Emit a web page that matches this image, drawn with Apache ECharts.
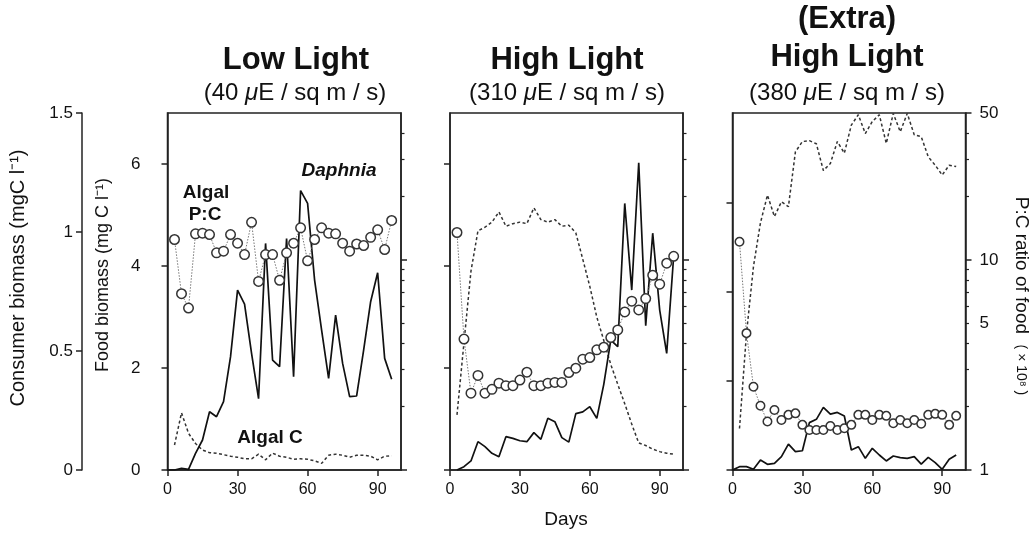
<!DOCTYPE html>
<html>
<head>
<meta charset="utf-8">
<script src="https://cdn.jsdelivr.net/npm/echarts@6/dist/echarts.min.js"></script>
<style>
  html, body { margin: 0; padding: 0; background: #fff; }
  #chart { width: 1036px; height: 534px; }
</style>
</head>
<body>
<div id="chart"></div>
<script>
// Sampling days (every 3 days); Daphnia in two runs also has a day-0 point
const days = [3, 6, 9, 12, 15, 18, 21, 24, 27, 30, 33, 36, 39, 42, 45, 48,
              51, 54, 57, 60, 63, 66, 69, 72, 75, 78, 81, 84, 87, 90, 93, 96];
const daysFrom0 = [0].concat(days);

// Low light (40 µE / sq m / s)
const lowAlgalC = [0.49, 1.12, 0.72, 0.52, 0.39, 0.34, 0.33, 0.30, 0.27, 0.25, 0.22, 0.22, 0.31, 0.20, 0.33, 0.27,
                   0.25, 0.21, 0.22, 0.21, 0.18, 0.13, 0.29, 0.31, 0.29, 0.25, 0.29, 0.29, 0.27, 0.20, 0.27, 0.28];
const lowDaphnia = [0, 0, 0.007, 0.003, 0.07, 0.126, 0.245, 0.224, 0.287, 0.476, 0.756, 0.697, 0.49, 0.30, 0.952, 0.462, 0.434,
                    0.973, 0.392, 1.174, 1.12, 0.798, 0.588, 0.385, 0.651, 0.448, 0.308, 0.311, 0.504, 0.707, 0.829, 0.469, 0.381];
const lowPC = [12.5, 6.9, 5.9, 13.3, 13.4, 13.2, 10.8, 11.0, 13.2, 12.0, 10.6, 15.1, 7.9, 10.6, 10.6, 8.0,
               10.8, 12.0, 14.2, 9.9, 12.5, 14.2, 13.4, 13.3, 12.0, 11.0, 11.9, 11.7, 12.8, 13.9, 11.2, 15.4];

// High light (310 µE / sq m / s)
const highAlgalC = [1.08, 2.5, 3.9, 4.69, 4.76, 4.86, 5.06, 4.78, 4.83, 4.86, 4.83, 5.14, 4.91, 4.86, 4.91, 4.78,
                    4.80, 4.65, 4.13, 3.6, 3.0, 2.54, 2.07, 1.68, 1.3, 0.9, 0.53, 0.48, 0.41, 0.36, 0.33, 0.31];
const highDaphnia = [0, 0.014, 0.038, 0.119, 0.098, 0.07, 0.056, 0.140, 0.133, 0.123, 0.119, 0.157, 0.129, 0.217, 0.203, 0.136,
                     0.117, 0.237, 0.244, 0.266, 0.217, 0.36, 0.546, 0.518, 1.12, 0.756, 1.291, 0.606, 0.995, 0.672, 0.49, 0.899];
const highPC = [13.5, 4.2, 2.32, 2.82, 2.32, 2.42, 2.59, 2.52, 2.52, 2.68, 2.92, 2.52, 2.52, 2.59, 2.61, 2.61,
                2.91, 3.05, 3.37, 3.43, 3.73, 3.84, 4.27, 4.64, 5.65, 6.36, 5.78, 6.54, 8.45, 7.66, 9.64, 10.4];

// (Extra) high light (380 µE / sq m / s)
const extraAlgalC = [0.93, 3.06, 4.56, 5.54, 6.16, 5.68, 6.01, 5.90, 7.13, 7.36, 7.38, 7.31, 6.71, 6.87, 7.36, 7.10,
                     7.73, 7.96, 7.54, 7.81, 7.96, 7.32, 7.99, 7.58, 7.99, 7.51, 7.47, 7.02, 6.83, 6.61, 6.83, 6.80];
const extraDaphnia = [0, 0.014, 0.014, 0.003, 0.042, 0.024, 0.028, 0.056, 0.109, 0.077, 0.081, 0.199, 0.213, 0.263, 0.235, 0.242, 0.227,
                      0.084, 0.098, 0.049, 0.091, 0.063, 0.038, 0.059, 0.052, 0.049, 0.056, 0.025, 0.053, 0.031, 0.003, 0.045, 0.063];
const extraPC = [12.2, 4.48, 2.49, 2.02, 1.70, 1.93, 1.73, 1.83, 1.86, 1.64, 1.55, 1.55, 1.55, 1.62, 1.55, 1.58,
                 1.64, 1.83, 1.83, 1.73, 1.83, 1.81, 1.67, 1.73, 1.67, 1.73, 1.66, 1.83, 1.85, 1.83, 1.64, 1.81];

// Axis ticks
const dayTicks = [0, 30, 60, 90];
const foodTicks = [0, 2, 4, 6];
const consumerTicks = [0, 0.5, 1, 1.5];
const ratioLabels = [1, 5, 10, 50];
const ratioMinorTicks = [2, 3, 4, 5, 6, 7, 8, 9, 20, 30, 40];

const FONT = 'Liberation Sans, Arial, Helvetica, sans-serif';
const INK = '#111';
const FRAME = '#222';

const runs = [
  { algalC: lowAlgalC, daphnia: lowDaphnia, daphniaDays: daysFrom0, pc: lowPC, foodMax: 7, left: 167.5, width: 233.5, symbol: 9.5 },
  { algalC: highAlgalC, daphnia: highDaphnia, daphniaDays: days, pc: highPC, foodMax: 7, left: 450, width: 233, symbol: 9.5 },
  { algalC: extraAlgalC, daphnia: extraDaphnia, daphniaDays: daysFrom0, pc: extraPC, foodMax: 8, left: 732.5, width: 233, symbol: 8.5 }
];

const pairs = (xs, ys) => ys.map((v, k) => [xs[k], v]);
const frameLine = { show: true, onZero: false, lineStyle: { color: FRAME, width: 1.5 } };
const tickLine = { color: FRAME, width: 1.5 };
const tickText = { fontSize: 16, color: INK, fontFamily: FONT };

const grid = [], xAxis = [], yAxis = [], series = [];

runs.forEach((r, i) => {
  grid.push({ left: r.left, top: 113, width: r.width, height: 357, show: true,
              borderColor: FRAME, borderWidth: 1.5, backgroundColor: 'transparent' });

  xAxis.push({
    gridIndex: i, type: 'value', min: 0, max: 100, position: 'bottom',
    axisLine: frameLine,
    axisTick: { show: true, length: 6, customValues: dayTicks, lineStyle: tickLine },
    axisLabel: Object.assign({ customValues: dayTicks, margin: 12 }, tickText),
    splitLine: { show: false }
  });

  // food biomass (left frame)
  yAxis.push({
    gridIndex: i, type: 'value', position: 'left', min: 0, max: r.foodMax,
    axisLine: frameLine,
    axisTick: { show: true, length: 6, customValues: foodTicks, lineStyle: tickLine },
    axisLabel: Object.assign({ show: i === 0, customValues: foodTicks, margin: 27 }, tickText, { fontSize: 17 }),
    splitLine: { show: false }
  });
  // consumer biomass (outer left axis, drawn once)
  yAxis.push({
    gridIndex: i, type: 'value', position: 'left', offset: 85.5, min: 0, max: 1.5, show: i === 0,
    axisLine: frameLine,
    axisTick: { show: true, length: 6, customValues: consumerTicks, lineStyle: tickLine },
    axisLabel: Object.assign({ customValues: consumerTicks, margin: 9, formatter: v => String(+v) }, tickText, { fontSize: 17 }),
    splitLine: { show: false }
  });
  // P:C ratio (right frame, log scale)
  yAxis.push({
    gridIndex: i, type: 'log', logBase: 10, position: 'right', min: 1, max: 50,
    axisLine: frameLine,
    axisTick: { show: true, length: 6, customValues: i === 2 ? [1, 10, 50] : [1, 10], lineStyle: tickLine },
    axisLabel: Object.assign({ show: i === 2, customValues: ratioLabels, margin: 14 }, tickText, { fontSize: 17 }),
    splitLine: { show: false }
  });
  yAxis.push({
    gridIndex: i, type: 'log', logBase: 10, position: 'right', min: 1, max: 50,
    axisLine: { show: false, onZero: false },
    axisTick: { show: true, length: 3.5, customValues: ratioMinorTicks, lineStyle: { color: FRAME, width: 1.2 } },
    axisLabel: { show: false },
    splitLine: { show: false }
  });

  series.push({
    type: 'line', xAxisIndex: i, yAxisIndex: 4 * i, data: pairs(days, r.algalC),
    symbol: 'none', lineStyle: { color: '#333', width: 1.5, type: [3, 2.5] }, z: 2
  });
  series.push({
    type: 'line', xAxisIndex: i, yAxisIndex: 4 * i + 1, data: pairs(r.daphniaDays, r.daphnia),
    symbol: 'none', lineStyle: { color: INK, width: 1.7 }, z: 3
  });
  series.push({
    type: 'line', xAxisIndex: i, yAxisIndex: 4 * i + 2, data: pairs(days, r.pc),
    symbol: 'circle', symbolSize: r.symbol, showSymbol: true,
    itemStyle: { color: '#fff', borderColor: '#333', borderWidth: 1.5 },
    lineStyle: { color: '#777', width: 1, type: [1.5, 1.5] }, z: 4
  });
});

const txt = (x, y, text, size, extra) => ({
  type: 'text', x: x, y: y, silent: true,
  style: Object.assign({ text: text, fontSize: size, fontFamily: FONT, fill: INK,
                         align: 'center', verticalAlign: 'middle' }, extra || {})
});
const italicMu = { i: { fontStyle: 'italic', fontSize: 24, fontFamily: FONT, fill: INK } };

const graphic = [
  txt(296, 60, 'Low Light', 31, { fontWeight: 'bold' }),
  txt(295, 93, '(40 {i|μ}E / sq m / s)', 24, { rich: italicMu }),
  txt(567, 60, 'High Light', 31, { fontWeight: 'bold' }),
  txt(567, 93, '(310 {i|μ}E / sq m / s)', 24, { rich: italicMu }),
  txt(847, 19, '(Extra)', 31, { fontWeight: 'bold' }),
  txt(847, 57, 'High Light', 31, { fontWeight: 'bold' }),
  txt(847, 93, '(380 {i|μ}E / sq m / s)', 24, { rich: italicMu }),

  txt(206, 193, 'Algal', 19, { fontWeight: 'bold' }),
  txt(205, 215, 'P:C', 19, { fontWeight: 'bold' }),
  txt(339, 171, 'Daphnia', 19, { fontWeight: 'bold', fontStyle: 'italic' }),
  txt(270, 438, 'Algal C', 19, { fontWeight: 'bold' }),

  Object.assign(txt(18, 278, 'Consumer biomass (mgC l⁻¹)', 20), { rotation: Math.PI / 2 }),
  Object.assign(txt(103, 275, 'Food biomass (mg C l⁻¹)', 18), { rotation: Math.PI / 2 }),
  Object.assign(txt(1021, 296, 'P:C ratio of food  {s|( × 10⁸ )}', 19,
                    { rich: { s: { fontSize: 14, fontFamily: FONT, fill: INK } } }),
                { rotation: -Math.PI / 2 }),
  txt(566, 520, 'Days', 19)
];

const chart = echarts.init(document.getElementById('chart'), null, { renderer: 'canvas' });
chart.setOption({
  animation: false,
  backgroundColor: '#fff',
  grid: grid,
  xAxis: xAxis,
  yAxis: yAxis,
  series: series,
  graphic: graphic
});
</script>
</body>
</html>
